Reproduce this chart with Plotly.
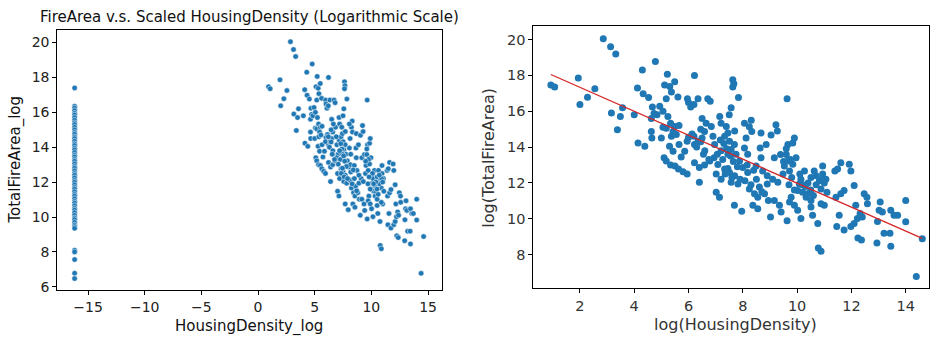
import plotly.graph_objects as go

# Points with measurable housing density (shared by both panels)
hd_log = [0.93, 1.07, 1.94, 2.0, 2.28, 2.55, 2.86, 3.13, 3.32, 3.16, 3.49, 3.57, 3.38, 4.0, 4.12, 4.3, 4.33,
          4.14, 4.39, 4.53, 4.78, 4.63, 4.73, 4.84, 4.67, 4.94, 4.63, 4.65, 5.0, 5.12, 5.22, 5.31, 5.49, 5.37,
          5.18, 5.61, 5.06, 5.24, 5.06, 5.18, 5.34, 5.49, 5.43, 5.65, 5.37, 5.55, 5.1, 5.18, 5.34, 5.5, 5.63,
          5.8, 5.95, 5.3, 5.43, 5.65, 5.73, 5.86, 5.96, 6.0, 6.08, 6.2, 6.35, 6.22, 6.13, 6.0, 6.22, 5.95, 6.35,
          6.5, 6.59, 6.45, 6.22, 6.4, 6.59, 6.4, 6.5, 6.71, 6.8, 6.84, 6.65, 6.96, 7.06, 6.94, 6.78, 7.15, 7.2,
          7.39, 7.17, 7.33, 7.45, 7.5, 7.57, 7.63, 7.67, 7.63, 7.84, 7.51, 7.69, 7.57, 7.75, 7.45, 7.26, 7.08,
          7.02, 7.2, 7.02, 7.14, 7.33, 7.51, 7.7, 7.57, 7.82, 7.69, 7.96, 7.88, 8.0, 8.16, 8.18, 8.06, 8.12,
          8.24, 8.31, 8.33, 8.06, 8.18, 8.08, 8.24, 8.43, 8.55, 8.37, 8.55, 8.61, 8.49, 8.67, 8.64, 8.67, 8.86,
          8.73, 8.9, 8.8, 8.94, 9.02, 9.04, 9.22, 9.27, 9.16, 9.1, 9.29, 9.16, 9.35, 9.41, 9.48, 9.53, 9.39,
          9.6, 9.66, 9.63, 9.66, 9.84, 9.9, 9.72, 9.84, 9.96, 9.78, 9.63, 9.72, 9.9, 10.02, 10.14, 10.02, 10.08,
          10.14, 10.27, 10.2, 10.39, 10.33, 10.51, 10.51, 10.63, 10.51, 10.57, 10.76, 10.78, 10.88, 10.82,
          10.88, 10.94, 10.94, 11.06, 11.1, 11.0, 10.88, 11.39, 11.49, 11.61, 11.43, 11.61, 11.73, 11.55,
          11.46, 11.73, 11.92, 11.98, 12.1, 11.98, 12.1, 12.22, 12.32, 12.16, 12.4, 12.24, 12.37, 12.47, 12.57,
          12.59, 12.96, 12.94, 13.06, 13.02, 13.14, 13.2, 13.42, 13.45, 13.45, 13.57, 13.7, 14.0, 14.0, 14.61,
          14.39,
          6.3, 6.6, 6.9, 6.2, 6.45, 6.75, 6.55, 7.3, 7.4, 7.55, 7.65, 7.8, 7.35, 7.6, 7.9, 7.45, 7.2, 7.7,
          8.3, 8.5, 8.7, 8.4, 8.9, 9.7, 9.9, 10.1, 10.3, 10.5, 10.7, 10.4, 10.6, 10.9, 11.0, 10.2, 9.8, 10.7,
          9.6, 9.75, 9.5]
fire_log = [17.47, 17.35, 17.86, 16.37, 16.78, 17.25, 20.05, 19.6, 19.2, 15.9, 15.7, 16.2, 14.96, 15.8, 17.3,
            18.3, 16.98, 14.23, 14.05, 16.76, 18.77, 15.6, 15.88, 15.8, 16.23, 16.28, 14.87, 14.5, 14.5, 17.47,
            18.06, 17.38, 17.65, 17.07, 16.7, 16.8, 16.0, 15.7, 15.1, 15.05, 15.33, 15.15, 14.87, 15.2, 14.6,
            14.7, 13.4, 13.22, 13.0, 12.95, 12.77, 12.62, 12.5, 14.05, 13.77, 14.14, 13.44, 13.77, 16.7, 16.48,
            16.24, 16.37, 16.7, 18.0, 14.73, 14.55, 14.14, 14.32, 14.32, 14.5, 14.87, 15.0, 13.13, 12.86, 13.0,
            12.03, 15.6, 16.7, 16.55, 15.15, 15.33, 14.14, 13.6, 13.4, 13.22, 15.7, 15.33, 15.15, 14.4, 14.6,
            14.78, 15.8, 16.2, 17.75, 17.53, 17.35, 16.76, 14.32, 14.14, 13.86, 13.6, 13.6, 13.3, 13.03, 12.49,
            12.2, 11.48, 11.2, 12.77, 12.58, 12.4, 12.03, 11.94, 10.75, 10.42, 13.22, 12.86, 13.0, 13.6, 13.95,
            14.5, 15.14, 15.5, 14.87, 15.33, 12.58, 12.12, 11.66, 11.39, 11.2, 10.75, 10.56, 11.77, 12.95, 13.4,
            13.95, 14.78, 14.14, 12.67, 11.94, 11.39, 11.02, 10.1, 14.68, 15.24, 14.9, 13.4, 12.2, 12.03, 11.02,
            10.75, 10.38, 12.49, 12.95, 13.58, 13.58, 13.22, 16.7, 14.14, 14.23, 14.5, 12.67, 13.04, 13.4, 11.2,
            9.89, 10.93, 10.75, 10.47, 10.02, 11.57, 11.94, 12.21, 12.67, 11.48, 11.39, 11.2, 11.02, 12.3, 12.67,
            10.66, 10.2, 9.74, 8.37, 8.18, 12.12, 11.66, 12.95, 12.49, 12.21, 11.48, 10.75, 10.84, 12.67, 12.77,
            13.13, 11.2, 11.39, 11.57, 10.2, 9.56, 9.37, 13.04, 12.67, 11.85, 9.56, 9.74, 10.02, 10.29, 10.75,
            10.1, 8.92, 8.82, 11.39, 11.2, 10.84, 9.84, 8.64, 10.93, 10.47, 10.38, 9.19, 9.19, 8.46, 10.47, 10.2,
            10.2, 11.02, 9.83, 8.88, 6.77,
            14.0, 13.8, 14.6, 14.6, 14.3, 13.3, 13.6, 14.2, 13.9, 13.5, 13.2, 12.9, 12.5, 12.3, 12.2, 12.8, 13.8,
            14.9, 11.9, 12.2, 11.5, 12.7, 12.4, 11.9, 11.6, 12.5, 11.8, 11.6, 11.9, 12.0, 11.3, 12.2, 12.0, 11.9,
            12.3, 12.4, 13.9, 13.3, 13.2]

# Points whose scaled housing density collapses to the floor value
zero_hd_log = -16.18
zero_fire_log = [17.4, 16.35, 16.25, 16.1, 15.95, 15.85, 15.7, 15.55, 15.4, 15.3, 15.15, 15.0, 14.85, 14.75,
                 14.6, 14.5, 14.35, 14.2, 14.1, 13.95, 13.85, 13.7, 13.55, 13.45, 13.3, 13.2, 13.05, 12.9, 12.8,
                 12.65, 12.5, 12.4, 12.25, 12.1, 12.0, 11.85, 11.7, 11.6, 11.45, 11.3, 11.2, 11.05, 10.9, 10.8,
                 10.65, 10.5, 10.4, 10.25, 10.1, 9.95, 9.85, 9.7, 9.55, 9.45, 9.35, 8.1, 8.0, 7.56, 6.78, 6.47]

# Regression line endpoints as seen in the right panel
reg_x = [0.93, 14.61]
reg_y = [18.05, 8.9]

BLUE = "#1f77b4"
FONT = "DejaVu Sans"

left_x = [zero_hd_log] * len(zero_fire_log) + hd_log
left_y = zero_fire_log + fire_log

fig = go.Figure()
fig.add_trace(go.Scatter(x=left_x, y=left_y, mode="markers", xaxis="x", yaxis="y",
                         marker=dict(color=BLUE, size=5.5, line=dict(color="white", width=0.5)),
                         showlegend=False))
fig.add_trace(go.Scatter(x=hd_log, y=fire_log, mode="markers", xaxis="x2", yaxis="y2",
                         marker=dict(color=BLUE, size=7, line=dict(width=0)),
                         showlegend=False))
fig.add_trace(go.Scatter(x=reg_x, y=reg_y, mode="lines", xaxis="x2", yaxis="y2",
                         line=dict(color="#d62728", width=1.3), showlegend=False))

axis_common = dict(showline=True, linecolor="black", linewidth=1, mirror=True, ticks="outside",
                   ticklen=4, tickwidth=1, tickcolor="black", showgrid=False, zeroline=False)
left_tick = dict(family=FONT, size=14, color="#222222")
right_tick = dict(family=FONT, size=14.5, color="#333333")

fig.update_layout(
    width=930, height=340, margin=dict(l=0, r=0, t=0, b=0),
    paper_bgcolor="white", plot_bgcolor="white",
    xaxis=dict(domain=[0.0616, 0.475], range=[-17.71, 16.21], tickvals=[-15, -10, -5, 0, 5, 10, 15],
               anchor="y", tickfont=left_tick, **axis_common),
    yaxis=dict(domain=[0.134, 0.910], range=[5.81, 20.71], tickvals=[6, 8, 10, 12, 14, 16, 18, 20],
               anchor="x", tickfont=left_tick, **axis_common),
    xaxis2=dict(domain=[0.5735, 0.999], range=[0.285, 14.86], tickvals=[2, 4, 6, 8, 10, 12, 14],
                anchor="y2", tickfont=right_tick, **axis_common),
    yaxis2=dict(domain=[0.139, 0.921], range=[6.11, 20.73], tickvals=[8, 10, 12, 14, 16, 18, 20],
                anchor="x2", tickfont=right_tick, **axis_common),
    annotations=[
        dict(text="FireArea v.s. Scaled HousingDensity (Logarithmic Scale)", x=249 / 930, y=1 - 17 / 340,
             xref="paper", yref="paper", showarrow=False, xanchor="center", yanchor="middle",
             font=dict(family=FONT, size=15, color="#111111")),
        dict(text="HousingDensity_log", x=249 / 930, y=1 - 331 / 340, xref="paper", yref="paper",
             showarrow=False, xanchor="center", yanchor="middle",
             font=dict(family=FONT, size=15, color="#111111")),
        dict(text="TotalFireArea_log", x=16 / 930, y=1 - 162 / 340, xref="paper", yref="paper",
             showarrow=False, xanchor="center", yanchor="middle", textangle=-90,
             font=dict(family=FONT, size=15, color="#111111")),
        dict(text="log(HousingDensity)", x=735 / 930, y=1 - 329 / 340, xref="paper", yref="paper",
             showarrow=False, xanchor="center", yanchor="middle",
             font=dict(family=FONT, size=16, color="#333333")),
        dict(text="log(TotalFireArea)", x=489 / 930, y=1 - 160 / 340, xref="paper", yref="paper",
             showarrow=False, xanchor="center", yanchor="middle", textangle=-90,
             font=dict(family=FONT, size=16, color="#333333")),
    ],
)

fig.write_html("out.html")
